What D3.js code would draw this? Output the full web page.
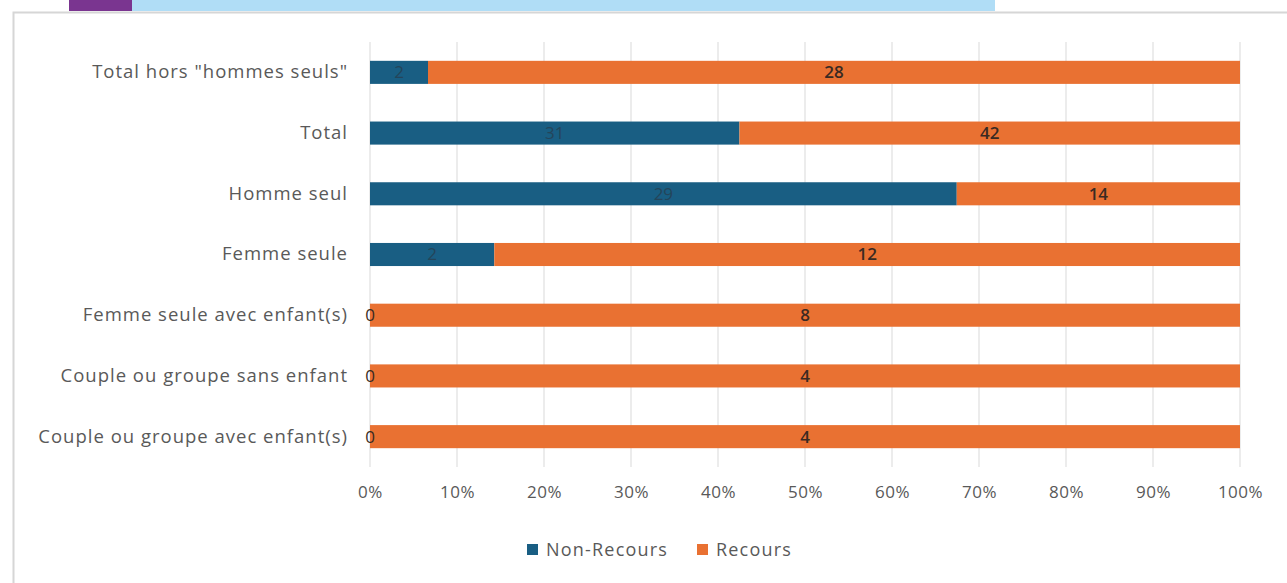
<!DOCTYPE html>
<html><head><meta charset="utf-8">
<script src="https://cdn.jsdelivr.net/npm/d3@7"></script>
<style>
html,body{margin:0;padding:0;background:#fff;}
svg{display:block;}
</style></head>
<body>
<svg id="chart" width="1287" height="583"></svg>
<script>
const categories = [
  'Total hors "hommes seuls"',
  'Total',
  'Homme seul',
  'Femme seule',
  'Femme seule avec enfant(s)',
  'Couple ou groupe sans enfant',
  'Couple ou groupe avec enfant(s)'
];
const nonRecours = [2, 31, 29, 2, 0, 0, 0];
const recours = [28, 42, 14, 12, 8, 4, 4];
const seriesNames = ["Non-Recours", "Recours"];
const tickValues = [0, 0.1, 0.2, 0.3, 0.4, 0.5, 0.6, 0.7, 0.8, 0.9, 1.0];

const colors = {"Non-Recours": "#195e83", "Recours": "#e97132"};
const font = "'Open Sans', 'Noto Sans', sans-serif";

const svg = d3.select("#chart");

// decorative header strips and frame
svg.append("rect").attr("x", 69).attr("y", 0).attr("width", 63).attr("height", 11).attr("fill", "#7a3590");
svg.append("rect").attr("x", 132).attr("y", 0).attr("width", 863).attr("height", 11).attr("fill", "#b0ddf6");
svg.append("path").attr("d", "M13.5,583 V12.5 H1287").attr("fill", "none").attr("stroke", "#d6d6d6").attr("stroke-width", 2);

const margin = {left: 370, right: 1240, top: 42, bottom: 467};
const x = d3.scaleLinear().domain([0, 1]).range([margin.left, margin.right]);
const y = d3.scaleBand().domain(categories).range([margin.top, margin.bottom]).paddingInner(0.62).paddingOuter(0.31);

const rows = categories.map((c, i) => {
  const tot = nonRecours[i] + recours[i];
  return {cat: c, nr: nonRecours[i], r: recours[i], p0: nonRecours[i] / tot};
});

// gridlines
svg.append("g").selectAll("line").data(tickValues).join("line")
  .attr("x1", d => x(d)).attr("x2", d => x(d))
  .attr("y1", margin.top).attr("y2", margin.bottom)
  .attr("stroke", "#d9d9d9").attr("stroke-width", 1);

// bars
const g = svg.append("g");
rows.forEach(d => {
  const yy = y(d.cat), h = y.bandwidth();
  if (d.nr > 0) g.append("rect").attr("x", x(0)).attr("y", yy).attr("width", x(d.p0) - x(0)).attr("height", h).attr("fill", colors["Non-Recours"]);
  g.append("rect").attr("x", x(d.p0)).attr("y", yy).attr("width", x(1) - x(d.p0)).attr("height", h).attr("fill", colors["Recours"]);
  // labels
  g.append("text").attr("x", (x(0) + x(d.p0)) / 2).attr("y", yy + h / 2).attr("dy", "0.35em")
    .attr("text-anchor", "middle").attr("font-family", font).attr("font-size", 17)
    .attr("fill", d.nr > 0 ? "#24455a" : "#3a2a22").text(d.nr);
  g.append("text").attr("x", (x(d.p0) + x(1)) / 2).attr("y", yy + h / 2).attr("dy", "0.35em")
    .attr("text-anchor", "middle").attr("font-family", font).attr("font-size", 17).attr("font-weight", 600)
    .attr("fill", "#3a2a22").text(d.r);
});

// category axis
const yAxis = svg.append("g").attr("transform", `translate(${margin.left - 22},0)`)
  .call(d3.axisLeft(y).tickSize(0).tickPadding(0));
yAxis.select(".domain").remove();
yAxis.selectAll("text").attr("font-family", font).attr("font-size", 18.5).attr("fill", "#595959").attr("letter-spacing", "1px");

// x axis
const xAxis = svg.append("g").attr("transform", `translate(0,${margin.bottom + 19})`)
  .call(d3.axisBottom(x).tickValues(tickValues).tickFormat(d3.format(".0%")).tickSize(0).tickPadding(0));
xAxis.select(".domain").remove();
xAxis.selectAll("text").attr("font-family", font).attr("font-size", 17).attr("fill", "#595959").attr("dy", "0.71em").attr("letter-spacing", "0.5px");

// legend
const legend = svg.append("g").attr("transform", "translate(527,550)");
const lx = [0, 170];
seriesNames.forEach((s, i) => {
  legend.append("rect").attr("x", lx[i]).attr("y", -6).attr("width", 11).attr("height", 11).attr("fill", colors[s]);
  legend.append("text").attr("x", lx[i] + 19).attr("y", 0).attr("dy", "0.35em")
    .attr("font-family", font).attr("font-size", 18).attr("fill", "#595959").attr("letter-spacing", "1.2px").text(s);
});
</script>
</body></html>
